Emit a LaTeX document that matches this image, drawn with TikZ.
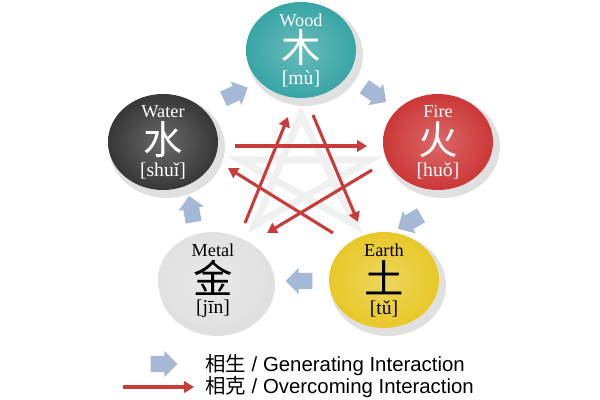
\documentclass[tikz,border=0pt]{standalone}
\usepackage{fontspec}
\setmainfont{Liberation Serif}
\newfontfamily\cjk{Noto Sans CJK SC}
\newfontfamily\arial{Liberation Sans}
\usetikzlibrary{shapes.arrows,shadows,arrows.meta}
\definecolor{woodc}{RGB}{56,165,165}
\definecolor{firec}{RGB}{205,55,55}
\definecolor{waterc}{RGB}{55,55,55}
\definecolor{metalc}{RGB}{225,225,225}
\definecolor{earthc}{RGB}{232,200,40}
\definecolor{genc}{RGB}{165,185,215}
\definecolor{koc}{RGB}{200,60,60}
\begin{document}
\begin{tikzpicture}[x=0.025cm,y=-0.025cm,
  lab/.style={font=\fontsize{13}{14}\selectfont},
  han/.style={font=\cjk\fontsize{28}{30}\selectfont},
  py/.style={font=\fontsize{14}{15}\selectfont},
  gen/.style={single arrow,fill=genc,draw=none,minimum height=19pt,inner xsep=0pt,inner ysep=5.5pt,single arrow head extend=3.5pt},
  ko/.style={draw=koc,line width=2.2pt,-{Triangle[length=7pt,width=8pt]}}]
\path[use as bounding box] (0,0) rectangle (600,400);
\def\ball#1#2#3#4#5#6#7#8{%
 \fill[black,opacity=0.12] (#1+4,#2+5) ellipse [x radius=58,y radius=51];
 \shade[inner color=#3!75!white,outer color=#3] (#1,#2) ellipse [x radius=55,y radius=48];
 \node[#4,lab] (#8l) at (#1,#2-30) {#5};
 \node[#4,han] (#8h) at (#1,#2-2) {#6};
 \node[#4,py] (#8p) at (#1,#2+29) {#7};}
% pentagram ghost
\draw[gray!12,line width=5pt] (301,115)--(355,225)--(240,160)--(370,160)--(255,225)--cycle;
\ball{301}{50}{woodc}{white}{Wood}{木}{[mù]}{wood}
\ball{438}{142}{firec}{white}{Fire}{火}{[huǒ]}{fire}
\ball{163}{142}{waterc}{white}{Water}{水}{[shuǐ]}{water}
\ball{213}{280}{metalc}{black}{Metal}{金}{[jīn]}{metal}
\ball{384}{280}{earthc}{black}{Earth}{土}{[tǔ]}{earth}
% overcoming
\coordinate (a1) at (235,146); \coordinate (b1) at (367,146);
\coordinate (a2) at (245,223); \coordinate (b2) at (288,117);
\coordinate (a3) at (313,115); \coordinate (b3) at (358,222);
\coordinate (a4) at (372,170); \coordinate (b4) at (267,233);
\coordinate (a5) at (333,233); \coordinate (b5) at (228,168);
\foreach \i in {1,...,5} \draw[ko] (a\i) -- (b\i);
% generating
\node[gen,rotate=25] (g1) at (232,95) {};
\node[gen,rotate=-35] (g2) at (372,92) {};
\node[gen,rotate=-150] (g3) at (413,220) {};
\node[gen,rotate=180] (g4) at (303,281) {};
\node[gen,rotate=100] (g5) at (192,213) {};
% legend
\node[gen] (lg) at (160,364) {};
\coordinate (lr1) at (123,387); \coordinate (lr2) at (194,387);
\draw[ko] (lr1) -- (lr2);
\node[anchor=west,inner sep=0pt,font=\arial\fontsize{14.5}{15}\selectfont] (t1) at (205,365) {{\cjk 相生} / Generating Interaction};
\node[anchor=west,inner sep=0pt,font=\arial\fontsize{14.5}{15}\selectfont] (t2) at (205,387) {{\cjk 相克} / Overcoming Interaction};
\end{tikzpicture}
\end{document}
